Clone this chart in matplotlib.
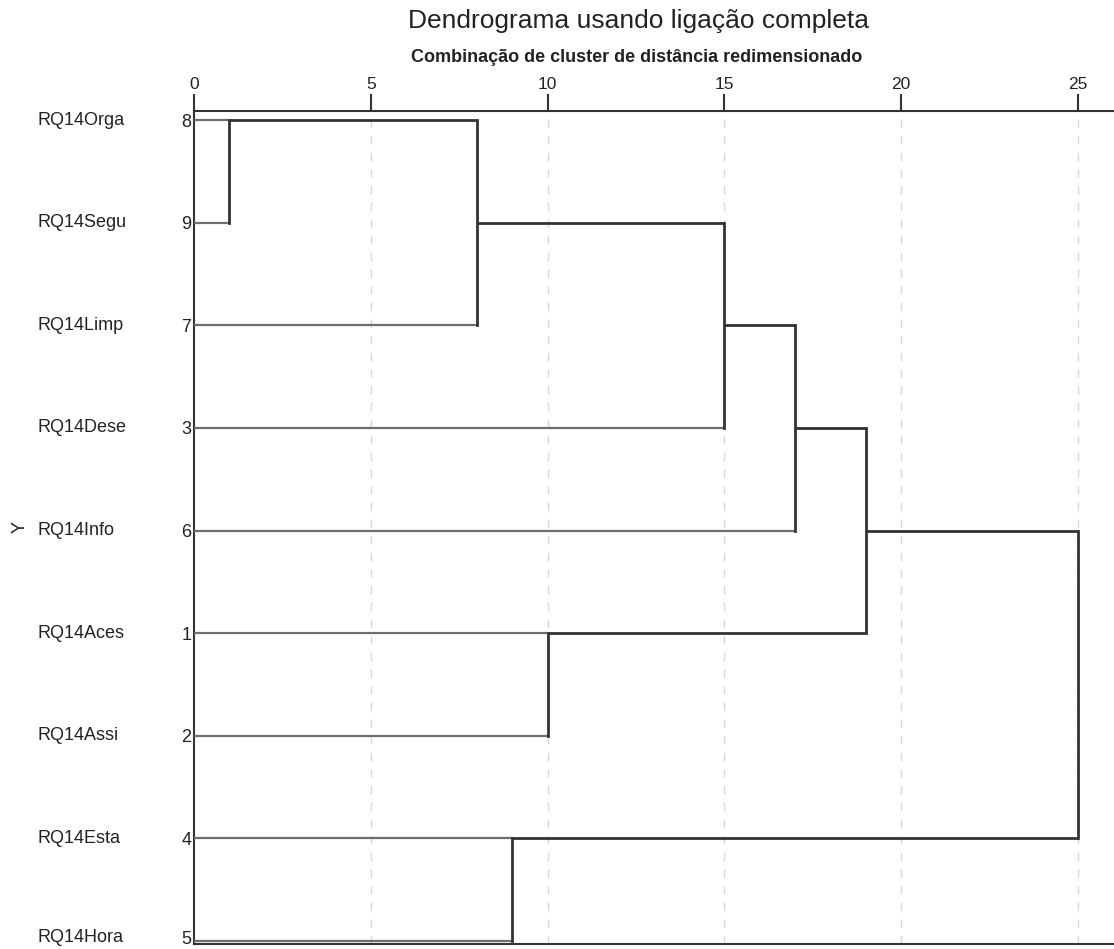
import matplotlib
matplotlib.use('Agg')
import matplotlib.pyplot as plt
import matplotlib.transforms as mtransforms

plt.rcParams['font.family'] = ['Liberation Sans', 'DejaVu Sans']

# folhas na ordem do dendrograma (de cima para baixo)
nomes = ['RQ14Orga', 'RQ14Segu', 'RQ14Limp', 'RQ14Dese', 'RQ14Info',
         'RQ14Aces', 'RQ14Assi', 'RQ14Esta', 'RQ14Hora']
casos = [8, 9, 7, 3, 6, 1, 2, 4, 5]

# etapas de aglomeracao (indices de folhas 0..8, novos clusters 9..)
junta_a = [0, 9, 7, 5, 10, 13, 14, 15]
junta_b = [1, 2, 8, 6, 3, 4, 12, 11]
distancia = [1, 8, 9, 10, 15, 17, 19, 25]

x_ticks = [0, 5, 10, 15, 20, 25]

fig = plt.figure(figsize=(11.14, 9.49), dpi=100)
ax = fig.add_axes([194 / 1114, 1 - 944 / 949, 1 - 194 / 1114, 833 / 949])

n = len(nomes)
pos = {i: i for i in range(n)}
alt = {i: 0 for i in range(n)}

for k, (a, b, d) in enumerate(zip(junta_a, junta_b, distancia)):
    for c in (a, b):
        if c < n:
            ax.plot([alt[c], d], [pos[c], pos[c]], color='#6e6e6e', lw=1.6,
                    solid_capstyle='butt', zorder=3)
        else:
            ax.plot([alt[c], d], [pos[c], pos[c]], color='#333333', lw=2,
                    solid_capstyle='butt', zorder=3)
    ax.plot([d, d], [pos[a], pos[b]], color='#333333', lw=2,
            solid_capstyle='projecting', zorder=3)
    novo = n + k
    pos[novo] = (pos[a] + pos[b]) // 2
    alt[novo] = d

# grade tracejada
for xt in x_ticks[1:]:
    ax.axvline(xt, color='#d8d8d8', lw=1, ls=(0, (6, 6)), zorder=1)

ax.set_xlim(0, 26.02)
ax.set_ylim(8.03, -0.09)

ax.xaxis.tick_top()
ax.set_xticks(x_ticks)
ax.tick_params(axis='x', direction='out', length=12, width=1.5,
               color='#333333', labelsize=12.5, pad=2, labelcolor='#222222')
ax.set_yticks(range(n))
ax.set_yticklabels([str(c) for c in casos])
ax.tick_params(axis='y', length=0, labelsize=13, pad=2, labelcolor='#222222')

# ultimo rotulo um pouco acima para nao cortar na borda
sobe = mtransforms.ScaledTranslation(0, 3 / 100, fig.dpi_scale_trans)
ultimo = ax.get_yticklabels()[-1]
ultimo.set_transform(ultimo.get_transform() + sobe)

for lado in ['top', 'left', 'bottom']:
    ax.spines[lado].set_color('#333333')
    ax.spines[lado].set_linewidth(1.5)
ax.spines['right'].set_visible(False)

for i, nome in enumerate(nomes):
    t = ax.text(-157 / 35.36, i, nome, ha='left', va='center', fontsize=13,
                color='#222222', clip_on=False)
    if i == n - 1:
        t.set_transform(t.get_transform() + sobe)

ax.set_ylabel('Y', fontsize=13, color='#222222')
ax.yaxis.set_label_coords(-165 / 920, 0.5)

fig.text(638 / 1114, 1 - 21 / 949, 'Dendrograma usando ligação completa',
         ha='center', va='center', fontsize=19, color='#222222')
fig.text(637 / 1114, 1 - 58 / 949,
         'Combinação de cluster de distância redimensionado',
         ha='center', va='center', fontsize=13, fontweight='bold',
         color='#222222')

fig.savefig('out.png', dpi=100)
